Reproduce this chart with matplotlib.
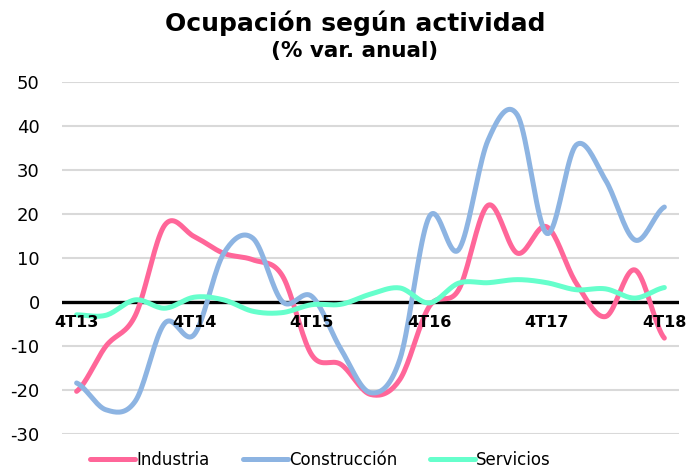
import numpy as np
import matplotlib
matplotlib.use('Agg')
import matplotlib.pyplot as plt

plt.rcParams['axes.unicode_minus'] = False

# quarterly series, 4T13 .. 4T18
quarters = ['4T13', '1T14', '2T14', '3T14', '4T14', '1T15', '2T15', '3T15', '4T15',
            '1T16', '2T16', '3T16', '4T16', '1T17', '2T17', '3T17', '4T17',
            '1T18', '2T18', '3T18', '4T18']
industria = [-20.3, -10.0, -3.0, 17.5, 14.9, 11.1, 9.6, 6.0, -12.0, -14.2, -21.0,
             -17.6, -1.0, 2.8, 22.0, 11.1, 17.1, 4.3, -3.3, 7.3, -8.2]
construccion = [-18.4, -24.5, -22.5, -4.8, -7.4, 11.0, 14.5, 0.1, 1.3, -10.8, -20.6,
                -13.0, 19.4, 11.9, 36.8, 42.5, 15.6, 35.7, 27.7, 14.1, 21.6]
servicios = [-2.9, -3.0, 0.5, -1.4, 1.1, 0.5, -2.1, -2.4, -0.6, -0.5, 1.8,
             3.2, -0.2, 4.3, 4.4, 5.1, 4.4, 2.8, 3.0, 0.9, 3.3]
tick_labels = ['4T13', '4T14', '4T15', '4T16', '4T17', '4T18']

colors = ['#ff6699', '#8db4e2', '#66ffcc']
names = ['Industria', 'Construcción', 'Servicios']


def smooth(y, n=20):
    # catmull-rom style smoothing like the spreadsheet "smoothed line"
    y = np.asarray(y, float)
    p = np.concatenate([[y[0]], y, [y[-1]]])
    xs, ys = [], []
    for i in range(len(y) - 1):
        p0, p1, p2, p3 = p[i], p[i + 1], p[i + 2], p[i + 3]
        t = np.linspace(0, 1, n, endpoint=False)
        v = 0.5 * (2 * p1 + (-p0 + p2) * t + (2 * p0 - 5 * p1 + 4 * p2 - p3) * t ** 2
                   + (-p0 + 3 * p1 - 3 * p2 + p3) * t ** 3)
        xs.append(i + t)
        ys.append(v)
    xs.append([len(y) - 1])
    ys.append([y[-1]])
    return np.concatenate(xs), np.concatenate(ys)


fig = plt.figure(figsize=(6.88, 4.72), dpi=100)
ax = fig.add_axes([0.090, 0.0805, 0.897, 0.7455])

for yv in range(-30, 51, 10):
    if yv != 0:
        ax.axhline(yv, color='#d9d9d9', lw=1.5, zorder=0)
ax.axhline(0, color='black', lw=2.4, zorder=1)

for data, c, name in zip([industria, construccion, servicios], colors, names):
    sx, sy = smooth(data)
    ax.plot(sx, sy, color=c, lw=3.6, solid_capstyle='round', label=name, zorder=3)

# category labels sit on the zero line, drawn over the series
for lab in tick_labels:
    i = quarters.index(lab)
    ax.annotate(lab, (i, 0), xytext=(0, -9), textcoords='offset points',
                ha='center', va='top', fontsize=11.5, fontweight='bold', zorder=5)

ax.set_xlim(-0.5, len(quarters) - 0.5)
ax.set_ylim(-30, 50)
ax.set_yticks(range(-30, 51, 10))
ax.set_xticks([])
ax.tick_params(axis='y', length=0, labelsize=13, pad=16)
for s in ax.spines.values():
    s.set_visible(False)

fig.text(0.516, 0.951, 'Ocupación según actividad', ha='center', va='center',
         fontsize=18, fontweight='bold')
fig.text(0.516, 0.893, '(% var. anual)', ha='center', va='center',
         fontsize=15.5, fontweight='bold')

fig.legend(loc='center', bbox_to_anchor=(0.466, 0.025), ncol=3, frameon=False,
           fontsize=12, handlelength=2.7, handletextpad=0.05, columnspacing=2.0)

fig.savefig('out.png', dpi=100)
